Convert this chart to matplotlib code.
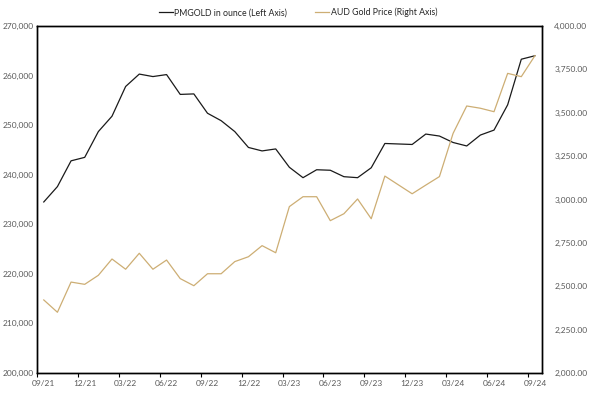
import matplotlib
matplotlib.use("Agg")
import matplotlib.pyplot as plt
from matplotlib.ticker import FuncFormatter, FixedLocator

plt.rcParams['font.family'] = ['Lato', 'DejaVu Sans']

# monthly data, 09/21 .. 09/24
pmgold = [234500, 237600, 242800, 243500, 248700, 251800, 257800, 260300, 259800,
          260200, 256200, 256300, 252400, 250900, 248700, 245500, 244800, 245200,
          241500, 239400, 241000, 240900, 239600, 239400, 241400, 246300, 246200,
          246100, 248200, 247800, 246500, 245800, 248000, 249000, 254100, 263300,
          264000]
aud_gold = [2421, 2350, 2524, 2511, 2563, 2657, 2598, 2690, 2598, 2651, 2544, 2503,
            2572, 2572, 2642, 2670, 2734, 2693, 2959, 3016, 3016, 2878, 2918, 3003,
            2889, 3135, 3084, 3033, 3083, 3132, 3381, 3539, 3526, 3506, 3727, 3708,
            3829]
tick_labels = ['09/21', '12/21', '03/22', '06/22', '09/22', '12/22', '03/23',
               '06/23', '09/23', '12/23', '03/24', '06/24', '09/24']

months = list(range(len(pmgold)))
text_col = '#595959'

fig = plt.figure(figsize=(5.96, 3.97), dpi=100)
ax = fig.add_axes([0.062, 0.0605, 0.847, 0.874])
ax2 = ax.twinx()

l1, = ax.plot(months, pmgold, color='#1a1a1a', lw=0.9, label='PMGOLD in ounce (Left Axis)')
l2, = ax2.plot(months, aud_gold, color='#CDAE74', lw=0.9, label='AUD Gold Price (Right Axis)')

ax.set_xlim(-0.5, len(pmgold) - 0.5)
ax.set_ylim(200000, 270000)
ax2.set_ylim(2000, 4000)
ax.set_yticks(range(200000, 270001, 10000))
ax2.set_yticks(range(2000, 4001, 250))
ax.yaxis.set_major_formatter(FuncFormatter(lambda v, p: f'{v:,.0f}'))
ax2.yaxis.set_major_formatter(FuncFormatter(lambda v, p: f'{v:,.2f}'))

ax.set_xticks(range(0, len(pmgold), 3))
ax.set_xticklabels(tick_labels)
ax.xaxis.set_minor_locator(FixedLocator([k - 0.5 for k in range(0, len(pmgold), 3)]))
ax.tick_params(axis='x', which='major', length=0, labelsize=6, labelcolor=text_col, pad=5)
ax.tick_params(axis='x', which='minor', length=3, width=0.8, direction='out')
ax.tick_params(axis='y', length=0, labelsize=6, labelcolor=text_col, pad=2)
ax2.tick_params(axis='y', length=0, labelsize=6, labelcolor=text_col, pad=9)

for a in (ax, ax2):
    for s in a.spines.values():
        s.set_linewidth(1.0)
        s.set_color('black')

fig.legend(handles=[l1, l2], loc='upper center', bbox_to_anchor=(0.5, 1.0), ncol=2,
           frameon=False, fontsize=6.3, handlelength=1.6, handletextpad=0.2,
           columnspacing=3.2, labelcolor='#262626')

fig.savefig('out.png', dpi=100)
